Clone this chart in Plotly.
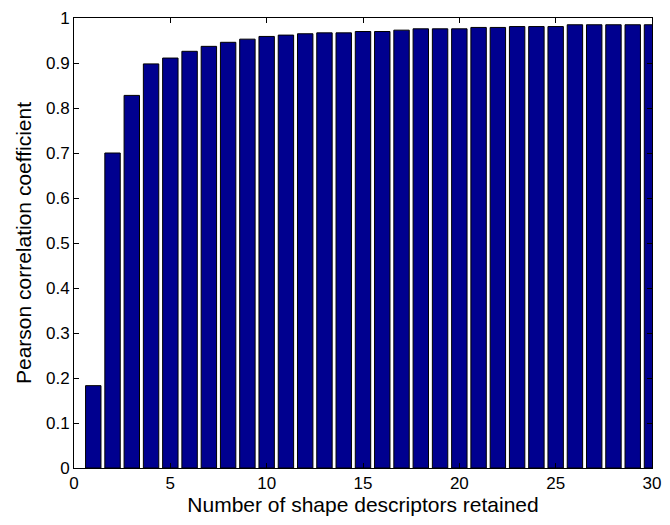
import plotly.graph_objects as go

# Number of descriptors retained and the resulting correlation
n_descriptors = list(range(1, 31))
pearson_r = [0.183, 0.700, 0.828, 0.898, 0.911, 0.926, 0.937, 0.946, 0.953, 0.959,
             0.962, 0.965, 0.967, 0.967, 0.970, 0.970, 0.973, 0.976, 0.976, 0.976,
             0.979, 0.979, 0.981, 0.981, 0.981, 0.985, 0.985, 0.985, 0.985, 0.985]

y_ticks = [i / 10 for i in range(11)]
y_tick_text = ["0"] + [f"{v:.1f}" for v in y_ticks[1:-1]] + ["1"]
x_ticks = [0, 5, 10, 15, 20, 25, 30]

font = "Liberation Sans, Arial, sans-serif"

fig = go.Figure(
    go.Bar(
        x=n_descriptors,
        y=pearson_r,
        width=0.8,
        marker=dict(color="rgb(0,0,143)", line=dict(color="black", width=1)),
    )
)

axis_common = dict(
    showgrid=False,
    zeroline=False,
    showline=True,
    linecolor="black",
    linewidth=1,
    mirror="ticks",
    ticks="inside",
    ticklen=5,
    tickcolor="black",
    tickfont=dict(family=font, size=17, color="black"),
)

fig.update_layout(
    width=670,
    height=525,
    margin=dict(l=74, r=9, t=14, b=57),
    paper_bgcolor="white",
    plot_bgcolor="white",
    showlegend=False,
    xaxis=dict(
        range=[0, 30],
        tickvals=x_ticks,
        title=dict(text="Number of shape descriptors retained",
                   font=dict(family=font, size=21, color="black"), standoff=1),
        **axis_common,
    ),
    yaxis=dict(
        range=[0, 1],
        tickvals=y_ticks,
        ticktext=y_tick_text,
        title=dict(text="Pearson correlation coefficient",
                   font=dict(family=font, size=21, color="black"), standoff=8),
        **axis_common,
    ),
)

fig.write_html("out.html")
